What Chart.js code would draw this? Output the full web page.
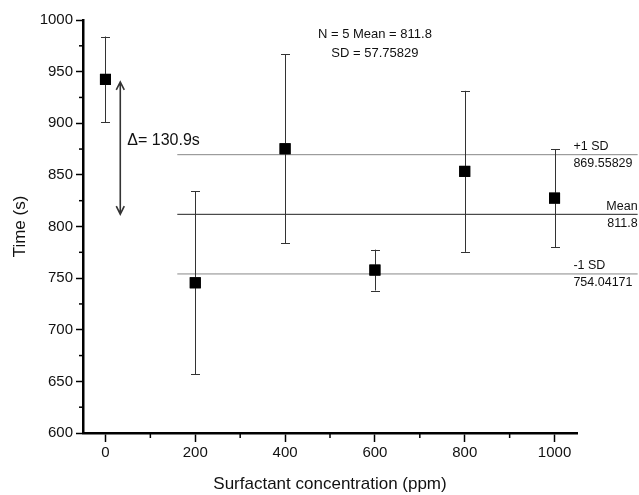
<!DOCTYPE html>
<html>
<head>
<meta charset="utf-8">
<script src="https://cdn.jsdelivr.net/npm/chart.js@4"></script>
<style>
  html, body { margin: 0; padding: 0; background: #fff; }
  #wrap { width: 639px; height: 495px; }
</style>
</head>
<body>
<div id="wrap"><canvas id="chart" width="639" height="495"></canvas></div>
<script>
// data
const concentrations = [0, 200, 400, 600, 800, 1000];
const times = [942.5, 745.5, 875.3, 757.8, 853.4, 827.5];
const errors = [41.5, 88.5, 91.7, 19.8, 78.0, 47.5];

const meanValue = 811.8;
const sdValue = 57.75829;
const refLevels = [869.55829, 811.8, 754.04171];
const refStartX = 160;
const refEndX = 1185;

const xTicks = [0, 200, 400, 600, 800, 1000];
const xMinorTicks = [100, 300, 500, 700, 900];
const yTicks = [600, 650, 700, 750, 800, 850, 900, 950, 1000];
const yMinorTicks = [625, 675, 725, 775, 825, 875, 925, 975];

const arrowX = 33;
const arrowFrom = 940;
const arrowTo = 812;

const FONT = "'Liberation Sans', Arial, sans-serif";

const points = concentrations.map((c, i) => ({ x: c, y: times[i] }));

// Error bars, minor ticks, annotations
const extrasPlugin = {
    id: 'extras',
    afterDatasetsDraw(chart) {
        const ctx = chart.ctx;
        const xs = chart.scales.x;
        const ys = chart.scales.y;

        // error bars
        ctx.save();
        ctx.strokeStyle = '#333';
        ctx.lineWidth = 1;
        concentrations.forEach((c, i) => {
            const px = Math.round(xs.getPixelForValue(c)) + 0.5;
            const top = ys.getPixelForValue(times[i] + errors[i]);
            const bot = ys.getPixelForValue(times[i] - errors[i]);
            ctx.beginPath();
            ctx.moveTo(px, top);
            ctx.lineTo(px, bot);
            ctx.moveTo(px - 4.5, Math.round(top) + 0.5);
            ctx.lineTo(px + 4.5, Math.round(top) + 0.5);
            ctx.moveTo(px - 4.5, Math.round(bot) + 0.5);
            ctx.lineTo(px + 4.5, Math.round(bot) + 0.5);
            ctx.stroke();
        });
        ctx.restore();

        // redraw markers on top of error bars
        const meta = chart.getDatasetMeta(0);
        meta.data.forEach(el => el.draw(ctx, chart.chartArea));

        // minor ticks
        ctx.save();
        ctx.strokeStyle = '#000';
        ctx.lineWidth = 1.5;
        const axisY = chart.chartArea.bottom;
        xMinorTicks.forEach(v => {
            const px = xs.getPixelForValue(v);
            ctx.beginPath();
            ctx.moveTo(px, axisY);
            ctx.lineTo(px, axisY + 5);
            ctx.stroke();
        });
        const axisX = chart.chartArea.left;
        yMinorTicks.forEach(v => {
            const py = ys.getPixelForValue(v);
            ctx.beginPath();
            ctx.moveTo(axisX, py);
            ctx.lineTo(axisX - 4, py);
            ctx.stroke();
        });
        ctx.restore();

        // double arrow
        ctx.save();
        ctx.strokeStyle = '#333';
        ctx.lineWidth = 1.6;
        const ax = xs.getPixelForValue(arrowX);
        const a1 = ys.getPixelForValue(arrowFrom);
        const a2 = ys.getPixelForValue(arrowTo);
        ctx.beginPath();
        ctx.moveTo(ax, a1);
        ctx.lineTo(ax, a2);
        ctx.moveTo(ax - 4, a1 + 8);
        ctx.lineTo(ax, a1);
        ctx.lineTo(ax + 4, a1 + 8);
        ctx.moveTo(ax - 4, a2 - 8);
        ctx.lineTo(ax, a2);
        ctx.lineTo(ax + 4, a2 - 8);
        ctx.stroke();
        ctx.restore();

        // texts
        ctx.save();
        ctx.fillStyle = '#111';
        ctx.textBaseline = 'middle';
        ctx.font = '16px ' + FONT;
        ctx.textAlign = 'left';
        ctx.fillText('\u0394= 130.9s', ax + 7, ys.getPixelForValue(883));

        ctx.font = '13px ' + FONT;
        ctx.textAlign = 'center';
        const cx = xs.getPixelForValue(600);
        ctx.fillText('N = 5 Mean = ' + meanValue, cx, 34);
        ctx.fillText('SD = ' + sdValue, cx, 53);

        ctx.font = '12.5px ' + FONT;
        const labX = xs.getPixelForValue(1042);
        const labR = xs.getPixelForValue(refEndX);
        const yp = ys.getPixelForValue(refLevels[0]);
        ctx.textAlign = 'left';
        ctx.fillText('+1 SD', labX, yp - 8);
        ctx.fillText(String(refLevels[0]), labX, yp + 9);
        const ym = ys.getPixelForValue(refLevels[1]);
        ctx.textAlign = 'right';
        ctx.fillText('Mean', labR, ym - 8);
        ctx.fillText(String(refLevels[1]), labR, ym + 9);
        const yn = ys.getPixelForValue(refLevels[2]);
        ctx.textAlign = 'left';
        ctx.fillText('-1 SD', labX, yn - 8);
        ctx.fillText(String(refLevels[2]), labX, yn + 9);
        ctx.restore();
    }
};

const refColors = ['#888', '#222', '#888'];
const refDatasets = refLevels.map((lvl, i) => ({
    type: 'line',
    data: [{ x: refStartX, y: lvl }, { x: refEndX, y: lvl }],
    borderColor: refColors[i],
    borderWidth: 1,
    pointRadius: 0,
    fill: false,
    clip: false,
    order: 5
}));

new Chart(document.getElementById('chart'), {
    type: 'scatter',
    data: {
        datasets: [{
            data: points,
            pointStyle: 'rect',
            pointRadius: 7.8,
            backgroundColor: '#000',
            borderColor: '#000',
            borderWidth: 0,
            order: 0
        }, ...refDatasets]
    },
    options: {
        responsive: false,
        animation: false,
        events: [],
        layout: { padding: { top: 20, right: 62, left: 0, bottom: 0 } },
        plugins: { legend: { display: false }, tooltip: { enabled: false } },
        scales: {
            x: {
                type: 'linear',
                min: -50,
                max: 1050,
                afterBuildTicks: s => { s.ticks = xTicks.map(v => ({ value: v })); },
                afterFit: s => { s.height = 62; },
                border: { display: true, color: '#000', width: 2.5 },
                grid: { drawOnChartArea: false, drawTicks: true, tickLength: 9, tickColor: '#000', tickWidth: 1.5 },
                ticks: { color: '#111', font: { family: FONT, size: 15 }, padding: 2, maxRotation: 0, callback: v => String(v) },
                title: { display: true, text: 'Surfactant concentration (ppm)', color: '#111', font: { family: FONT, size: 17 }, padding: { top: 5, bottom: 0 } }
            },
            y: {
                type: 'linear',
                min: 600,
                max: 1000,
                afterBuildTicks: s => { s.ticks = yTicks.map(v => ({ value: v })); },
                afterFit: s => { s.width = 83; },
                border: { display: true, color: '#000', width: 2.5 },
                grid: { drawOnChartArea: false, drawTicks: true, tickLength: 7, tickColor: '#000', tickWidth: 1.5 },
                ticks: { color: '#111', font: { family: FONT, size: 15 }, padding: 3, callback: v => String(v) },
                title: { display: true, text: 'Time (s)', color: '#111', font: { family: FONT, size: 17 }, padding: { top: 10, bottom: 0 } }
            }
        }
    },
    plugins: [extrasPlugin]
});
</script>
</body>
</html>
